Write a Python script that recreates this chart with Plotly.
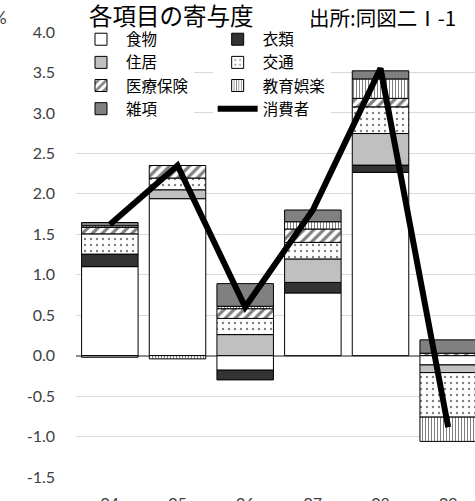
import plotly.graph_objects as go

years = ["04", "05", "06", "07", "08", "09"]
food = [1.10, 1.94, -0.18, 0.775, 2.265, -0.115]
clothing = [0.155, None, -0.12, 0.13, 0.09, None]
housing = [-0.02, 0.11, 0.26, 0.29, 0.39, -0.095]
transport = [0.25, 0.145, 0.20, 0.205, 0.33, -0.55]
medical = [0.08, 0.155, 0.12, 0.165, 0.105, 0.03]
education = [0.02, -0.04, 0.03, 0.09, 0.24, -0.30]
misc = [0.04, None, 0.28, 0.145, 0.10, 0.165]
consumer = [1.62, 2.35, 0.60, 1.80, 3.55, -0.885]

ytickvals = [-1.5, -1.0, -0.5, 0.0, 0.5, 1.0, 1.5, 2.0, 2.5, 3.0, 3.5, 4.0]
yticktext = ["-1.5", "-1.0", "-0.5", "0.0", "0.5", "1.0", "1.5", "2.0", "2.5", "3.0", "3.5", "4.0"]

JP = "Noto Sans CJK JP"
NUM = "Century Gothic, Lato, sans-serif"

series = [
    ("食物", food, dict(color="white"), "legend"),
    ("衣類", clothing, dict(color="#333333"), "legend2"),
    ("住居", housing, dict(color="#c0c0c0"), "legend"),
    ("交通", transport, dict(color="white", pattern=dict(shape=".", fgcolor="black", bgcolor="white", size=6, solidity=0.12)), "legend2"),
    ("医療保険", medical, dict(color="white", pattern=dict(shape="/", fgcolor="black", bgcolor="white", size=7, solidity=0.45)), "legend"),
    ("教育娯楽", education, dict(color="white", pattern=dict(shape="|", fgcolor="black", bgcolor="white", size=3, solidity=0.35)), "legend2"),
    ("雑項", misc, dict(color="#808080"), "legend"),
]

fig = go.Figure()
for name, vals, mk, lg in series:
    mk = dict(mk)
    mk["line"] = dict(color="black", width=1)
    fig.add_trace(go.Bar(x=years, y=vals, name=name, marker=mk, legend=lg))

fig.add_trace(go.Scatter(x=years, y=consumer, name="消費者", mode="lines",
                         line=dict(color="black", width=6), legend="legend2"))

legend_common = dict(
    orientation="v", bgcolor="white", borderwidth=0,
    font=dict(family=JP, size=15.5, color="black"),
    itemwidth=40, yanchor="top", xanchor="left", tracegroupgap=0,
)

fig.update_layout(
    width=475, height=501,
    margin=dict(l=76, r=0, t=32, b=24, autoexpand=False),
    paper_bgcolor="white", plot_bgcolor="white",
    barmode="relative", bargap=0.165,
    showlegend=True,
    legend=dict(x=0.0, y=1.021, **legend_common),
    legend2=dict(x=0.3425, y=1.021, **legend_common),
    xaxis=dict(type="category", range=[-0.5, 5.396], showgrid=False, showline=False,
               automargin=False,
               ticks="", tickfont=dict(family=NUM, size=16, color="#404040"),
               ticklabelstandoff=15),
    yaxis=dict(range=[-1.5, 4.0], tickvals=ytickvals, ticktext=yticktext,
               automargin=False,
               showgrid=True, gridcolor="#d9d9d9", gridwidth=1,
               zeroline=True, zerolinecolor="#8c8c8c", zerolinewidth=1.5,
               showline=False, ticks="",
               tickfont=dict(family=NUM, size=16, color="#404040"),
               ticklabelstandoff=20),
    annotations=[
        dict(text="各項目の寄与度", xref="paper", yref="paper", x=0.24, y=1.0375,
             xanchor="center", yanchor="middle", showarrow=False,
             font=dict(family=JP, size=23.5, color="black")),
        dict(text="出所:同図二Ⅰ-1", xref="paper", yref="paper", x=0.767, y=1.033,
             xanchor="center", yanchor="middle", showarrow=False,
             font=dict(family=JP, size=20.5, color="black")),
        dict(text="%", xref="paper", yref="paper", x=-0.168, y=1.033,
             xanchor="right", yanchor="middle", showarrow=False,
             font=dict(family=NUM, size=17, color="#404040")),
    ],
)

fig.write_html("out.html", config={"displayModeBar": False},
               post_script="document.body.style.margin='0';")
